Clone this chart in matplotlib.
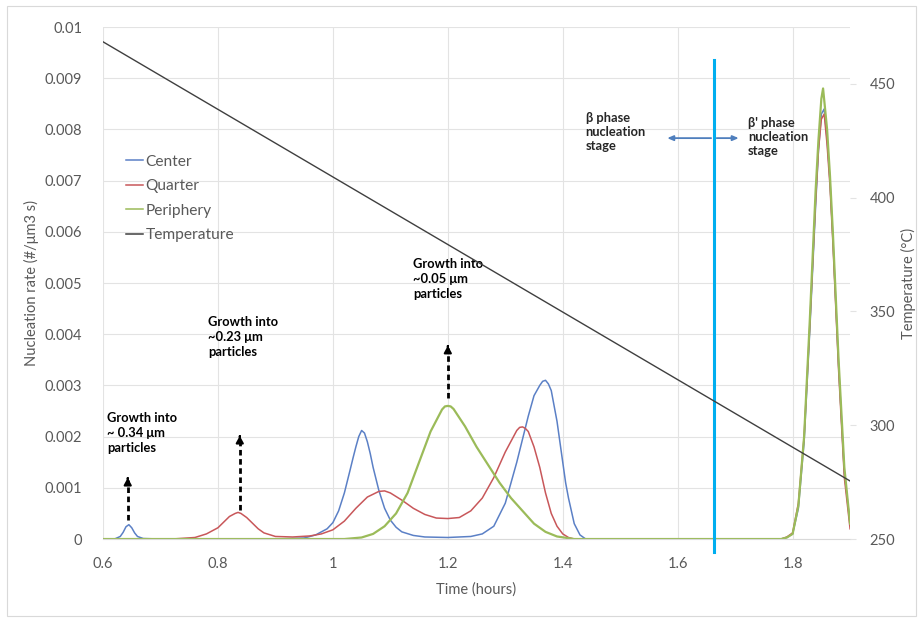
import matplotlib
matplotlib.use("Agg")
import matplotlib.pyplot as plt
from matplotlib.patches import Rectangle
from matplotlib.lines import Line2D

plt.rcParams['font.family'] = ['Lato', 'DejaVu Sans']

# Center series (time in hours, nucleation rate)
center_t = [0.60, 0.62, 0.63, 0.635, 0.64, 0.645, 0.65, 0.655, 0.66, 0.67, 0.70,
            0.90, 0.95, 0.97, 0.99, 1.00, 1.01, 1.02, 1.03, 1.035, 1.04, 1.045, 1.05,
            1.055, 1.06, 1.065, 1.07, 1.08, 1.09, 1.10, 1.11, 1.12, 1.14, 1.16, 1.20,
            1.24, 1.26, 1.28, 1.30, 1.32, 1.34, 1.35, 1.36, 1.365, 1.37, 1.375, 1.38,
            1.385, 1.39, 1.395, 1.40, 1.405, 1.41, 1.42, 1.43, 1.44,
            1.78, 1.79, 1.80, 1.81, 1.82, 1.83, 1.84, 1.845, 1.85, 1.855, 1.86,
            1.865, 1.87, 1.88, 1.89, 1.90]
center_v = [0.0, 0.0, 0.00005, 0.00013, 0.00024, 0.00028, 0.00022, 0.00012, 0.00005,
            0.00001, 0.0,
            0.0, 0.00002, 0.00008, 0.0002, 0.00032, 0.00055, 0.0009, 0.00135, 0.00158,
            0.0018, 0.002, 0.00212, 0.00207, 0.0019, 0.00167, 0.0014, 0.00095, 0.0006,
            0.00037, 0.00023, 0.00014, 0.00007, 0.00004, 0.00003, 0.00005, 0.0001,
            0.00025, 0.0007, 0.0015, 0.0024, 0.0028, 0.003, 0.00308, 0.0031, 0.00303,
            0.0029, 0.0026, 0.0023, 0.0019, 0.0015, 0.0011, 0.0008, 0.0003, 0.00008,
            0.0,
            0.0, 0.00003, 0.0001, 0.0006, 0.0019, 0.0041, 0.0065, 0.0076, 0.0083,
            0.0084, 0.0078, 0.007, 0.0059, 0.0034, 0.0013, 0.0003]

# Quarter series
quarter_t = [0.60, 0.72, 0.76, 0.78, 0.80, 0.81, 0.82, 0.83, 0.835, 0.84, 0.85, 0.86,
             0.87, 0.88, 0.90, 0.93, 0.96, 0.98, 1.00, 1.02, 1.04, 1.06, 1.08, 1.09,
             1.10, 1.12, 1.14, 1.16, 1.18, 1.20, 1.22, 1.24, 1.26, 1.28, 1.30, 1.32,
             1.325, 1.33, 1.335, 1.34, 1.35, 1.36, 1.37, 1.38, 1.39, 1.40, 1.41, 1.42,
             1.78, 1.79, 1.80, 1.81, 1.82, 1.83, 1.84, 1.845, 1.85, 1.855, 1.86,
             1.865, 1.87, 1.88, 1.89, 1.90]
quarter_v = [0.0, 0.0, 0.00003, 0.0001, 0.00022, 0.00033, 0.00044, 0.0005, 0.00052,
             0.0005, 0.00042, 0.00031, 0.0002, 0.00012, 0.00005, 0.00004, 0.00006,
             0.0001, 0.00018, 0.00035, 0.0006, 0.00082, 0.00093, 0.00094, 0.0009,
             0.00076, 0.0006, 0.00048, 0.00041, 0.0004, 0.00042, 0.00055, 0.0008,
             0.0012, 0.0017, 0.00212, 0.00218, 0.00219, 0.00216, 0.0021, 0.0018,
             0.0014, 0.0009, 0.0005, 0.00025, 0.0001, 0.00003, 0.0,
             0.0, 0.00004, 0.00012, 0.0007, 0.002, 0.0042, 0.0066, 0.0076, 0.0082,
             0.0083, 0.0077, 0.0069, 0.0058, 0.0033, 0.0012, 0.0002]

# Periphery series
periphery_t = [0.60, 1.02, 1.05, 1.07, 1.09, 1.11, 1.13, 1.15, 1.17, 1.19, 1.195, 1.20,
               1.205, 1.21, 1.23, 1.25, 1.27, 1.29, 1.31, 1.33, 1.35, 1.37, 1.39, 1.42,
               1.78, 1.79, 1.80, 1.81, 1.82, 1.83, 1.84, 1.845, 1.85, 1.853, 1.86,
               1.865, 1.87, 1.88, 1.89, 1.90]
periphery_v = [0.0, 0.0, 0.00003, 0.0001, 0.00025, 0.0005, 0.0009, 0.0015, 0.0021,
               0.00253, 0.00259, 0.0026, 0.00259, 0.00254, 0.0022, 0.0018, 0.00145,
               0.0011, 0.0008, 0.00055, 0.0003, 0.00014, 0.00005, 0.0,
               0.0, 0.00003, 0.0001, 0.00065, 0.002, 0.0043, 0.0068, 0.0078, 0.0086,
               0.0088, 0.008, 0.0071, 0.006, 0.0035, 0.0014, 0.0003]

# Temperature (secondary axis)
temp_t = [0.60, 1.90]
temp_v = [468.5, 275.5]

phase_boundary = 1.663

x_ticks = [0.6, 0.8, 1.0, 1.2, 1.4, 1.6, 1.8]
x_labels = ["0.6", "0.8", "1", "1.2", "1.4", "1.6", "1.8"]
y_ticks = [0, 0.001, 0.002, 0.003, 0.004, 0.005, 0.006, 0.007, 0.008, 0.009, 0.01]
y_labels = ["0", "0.001", "0.002", "0.003", "0.004", "0.005", "0.006", "0.007",
            "0.008", "0.009", "0.01"]
t_ticks = [250, 300, 350, 400, 450]

growth_notes = [
    ("Growth into\n~ 0.34 \u03bcm\nparticles", 0.607, 0.00248, 0.643, 0.00037, 0.00125),
    ("Growth into\n~0.23 \u03bcm\nparticles", 0.783, 0.00436, 0.838, 0.00057, 0.00207),
    ("Growth into\n~0.05 \u03bcm\nparticles", 1.139, 0.00549, 1.200, 0.00275, 0.00383),
]

gray = "#595959"
grid_c = "#e3e3e3"

fig = plt.figure(figsize=(9.23, 6.21), dpi=100)
fig.patches.append(Rectangle((0.008, 0.008), 0.984, 0.982, transform=fig.transFigure,
                             fill=False, edgecolor="#d9d9d9", lw=0.8))
ax = fig.add_axes([0.1116, 0.132, 0.8094, 0.8245])
ax2 = ax.twinx()

ax.set_xlim(0.6, 1.9)
ax.set_ylim(0, 0.01)
ax2.set_ylim(250, 475)

ax.set_xticks(x_ticks)
ax.set_xticklabels(x_labels)
ax.set_yticks(y_ticks)
ax.set_yticklabels(y_labels)
ax2.set_yticks(t_ticks)

ax.grid(True, color=grid_c, lw=0.8)
ax.set_axisbelow(True)
for sp in ax.spines.values():
    sp.set_visible(False)
for sp in ax2.spines.values():
    sp.set_visible(False)
ax.spines['bottom'].set_visible(True)
ax.spines['bottom'].set_color("#d9d9d9")

ax.tick_params(axis='y', length=0, labelsize=10.5, labelcolor=gray, pad=15)
ax.tick_params(axis='x', length=0, labelsize=10.5, labelcolor=gray, pad=13)
ax2.tick_params(axis='y', length=4, color=grid_c, labelsize=10.5, labelcolor=gray, pad=10)

l1, = ax.plot(center_t, center_v, color="#5b80c6", lw=1.1)
l2, = ax.plot(quarter_t, quarter_v, color="#c8575a", lw=1.1)
l3, = ax.plot(periphery_t, periphery_v, color="#9bbb59", lw=1.6)
l4, = ax2.plot(temp_t, temp_v, color="#3f3f3f", lw=1.0)

# phase boundary line
ax.plot([phase_boundary, phase_boundary], [-0.00025, 0.00936], color="#00aeef",
        lw=2.2, clip_on=False, zorder=5)

ax.set_xlabel("Time (hours)", color=gray, fontsize=10.5, labelpad=8)
ax.set_ylabel("Nucleation rate (#/\u03bcm3 s)", color=gray, fontsize=10.5, labelpad=4)
ax2.set_ylabel("Temperature (\u00b0C)", color=gray, fontsize=10.5, labelpad=4)

for text, tx, ty, ax_x, y0, y1 in growth_notes:
    ax.text(tx, ty, text, fontsize=9.3, fontweight='bold', color="black",
            va='top', ha='left', linespacing=1.3)
    ax.plot([ax_x, ax_x], [y0, y1 - 0.0001], color="black", lw=2,
            linestyle=(0, (2, 1.3)))
    ax.annotate("", xy=(ax_x, y1), xytext=(ax_x, y1 - 0.00012),
                arrowprops=dict(arrowstyle="-|>,head_width=0.22,head_length=0.4",
                                color="black", lw=1.5))

ax.text(1.44, 0.00834, "\u03b2 phase\nnucleation\nstage", fontsize=9.3,
        fontweight='bold', color="#262626", va='top', ha='left', linespacing=1.2)
ax.text(1.722, 0.00824, "\u03b2' phase\nnucleation\nstage", fontsize=9.3,
        fontweight='bold', color="#262626", va='top', ha='left', linespacing=1.2)
ax.annotate("", xy=(1.577, 0.00783), xytext=(phase_boundary, 0.00783),
            arrowprops=dict(arrowstyle="-|>,head_width=0.15,head_length=0.35",
                            color="#4f7fbd", lw=1.3))
ax.annotate("", xy=(1.711, 0.00783), xytext=(phase_boundary, 0.00783),
            arrowprops=dict(arrowstyle="-|>,head_width=0.15,head_length=0.35",
                            color="#4f7fbd", lw=1.3))

handles = [Line2D([], [], color="#5b80c6", lw=1.1),
           Line2D([], [], color="#c8575a", lw=1.1),
           Line2D([], [], color="#9bbb59", lw=1.1),
           Line2D([], [], color="#3f3f3f", lw=1.1)]
leg = ax.legend(handles, ["Center", "Quarter", "Periphery", "Temperature"],
                loc='upper left', bbox_to_anchor=(0.012, 0.778), frameon=False,
                handlelength=1.1, handletextpad=0.15, labelspacing=0.68, fontsize=11.2)
for t in leg.get_texts():
    t.set_color(gray)

fig.savefig("out.png", dpi=100)
